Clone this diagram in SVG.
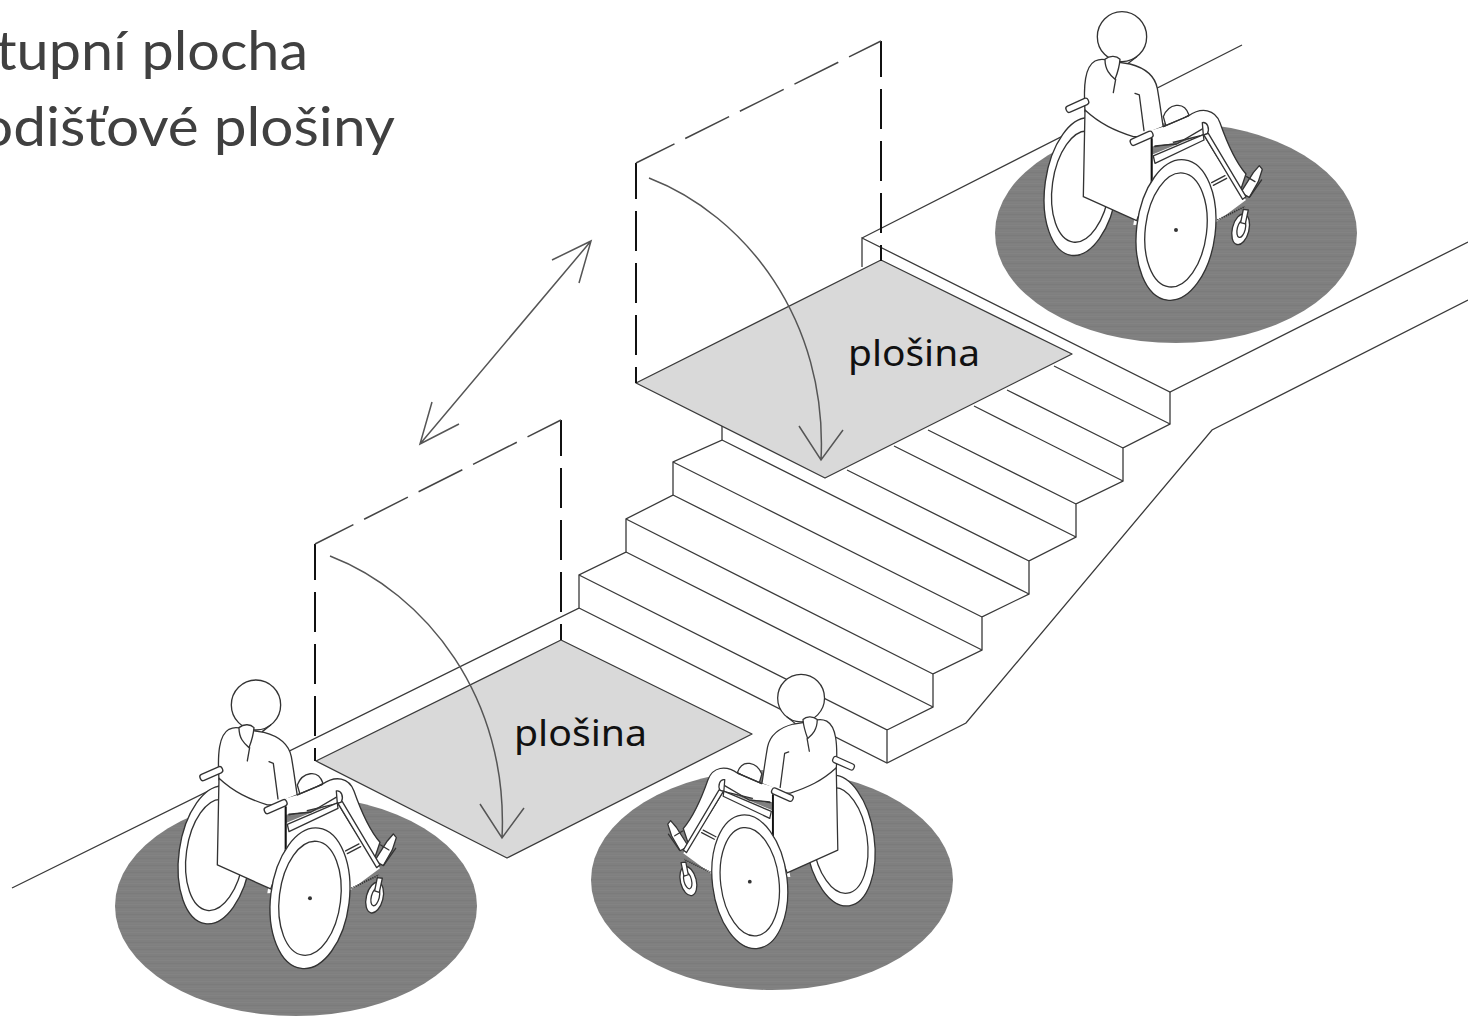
<svg xmlns="http://www.w3.org/2000/svg" width="1468" height="1016" viewBox="0 0 1468 1016">
<style>
.l{fill:none;stroke:#3a3a3a;stroke-width:1.3}
.plat{fill:#d9d9d9;stroke:#3a3a3a;stroke-width:1.3;stroke-linejoin:round}
.dv{fill:none;stroke:#111;stroke-width:2;stroke-dasharray:40 12;stroke-dashoffset:4}
.ds{fill:none;stroke:#444;stroke-width:1.5;stroke-dasharray:49 12;stroke-dashoffset:6}
.a{fill:none;stroke:#555;stroke-width:1.5}
.spot{fill:url(#st)}
.title{font-family:"Lato","Carlito","Liberation Sans",sans-serif;font-size:54px;fill:#404040}
.lab{font-family:"Noto Sans","DejaVu Sans",sans-serif;font-size:37px;fill:#111}
.w{fill:#fff;stroke:#333;stroke-width:4;stroke-linejoin:round;stroke-linecap:round}
.n{fill:none;stroke:#333;stroke-width:4;stroke-linejoin:round;stroke-linecap:round}
</style>
<defs>
<pattern id="st" width="40" height="7" patternUnits="userSpaceOnUse">
<rect width="40" height="7" fill="#7f7f7f"/>
<rect y="1" width="40" height="1" fill="#838383"/>
<rect y="4" width="40" height="1" fill="#7b7b7b"/>
<rect y="6" width="40" height="1" fill="#818181"/>
</pattern>
<path id="swing" d="M649,178 C745,215 828,320 821,460 M799,426 L821,460 L843,430"/>
<g id="chair">
<ellipse class="w" cx="243" cy="560" rx="108" ry="208" transform="rotate(8 243 560)"/>
<ellipse class="n" cx="243" cy="560" rx="86" ry="168" transform="rotate(8 243 560)"/>
<path d="M430,475 L612,400 L738,600 L650,665 L400,675 Z" fill="#fff"/>
<path class="w" d="M490,350 C505,312 552,300 567,345 L500,385 Z"/>
<path class="w" d="M255,335 C250,255 255,200 285,183 C300,176 315,178 325,182 L390,192 C440,205 465,230 472,265 C480,310 484,345 490,382 L510,378 L450,440 L300,400 Z"/>
<path class="w" d="M490,380 L565,348 C605,320 645,328 660,368 C680,425 702,480 738,522 L722,570 C680,520 642,455 612,405 L465,440 L440,400 Z"/>
<path d="M440,395 L490,380 L520,430 L450,440 Z" fill="#fff"/>
<path class="n" d="M490,380 L565,348 M465,438 L530,432 L610,385"/>
<path class="w" d="M722,578 L760,518 L778,497 L787,508 L775,545 L748,592 Z"/>
<path class="n" d="M740,530 L765,545 M750,590 L785,540"/>
<path class="w" d="M607,368 C622,365 630,385 622,402 L610,405 Z"/>
<path class="w" d="M612,405 L728,598 L738,590 L625,400 Z"/>
<path class="w" d="M460,468 L610,404 L612,420 L465,490 Z"/>
<path class="n" d="M635,548 L675,527 M640,556 L680,535"/>
<path class="n" d="M652,660 L735,620" stroke-dasharray="4 3" style="stroke-width:5;stroke-linecap:butt"/>
<path class="w" d="M255,330 C300,372 345,392 400,410 L455,410 L455,545 L410,662 L250,590 Z"/>
<path d="M455,415 L455,548" fill="none" stroke="#111" stroke-width="6"/>
<path class="n" d="M405,280 L418,285 L432,392"/>
<rect class="w" x="-36" y="-10" width="72" height="20" rx="8" transform="translate(232,316) rotate(-24)"/>
<rect class="w" x="-36" y="-10" width="72" height="20" rx="8" transform="translate(425,415) rotate(-24)"/>
<ellipse class="w" cx="366" cy="110" rx="74" ry="75"/>
<path class="n" d="M385,190 L410,170"/>
<path class="w" d="M315,178 C330,165 350,168 360,178 C358,205 350,225 345,238 C330,225 315,210 315,178 Z"/>
<path class="n" d="M347,238 L340,278"/>
<ellipse class="w" cx="528" cy="690" rx="118" ry="212" transform="rotate(7 528 690)"/>
<ellipse class="n" cx="528" cy="690" rx="92" ry="172" transform="rotate(7 528 690)"/>
<circle cx="528" cy="690" r="6" fill="#333"/>
<ellipse class="w" cx="722" cy="688" rx="25" ry="47" transform="rotate(14 722 688)"/>
<ellipse class="n" cx="724" cy="686" rx="12" ry="27" transform="rotate(14 724 686)"/>
<path class="w" d="M730,628 L745,630 L736,672 L722,668 Z"/>
</g>
</defs>
<rect width="1468" height="1016" fill="#fff"/>
<g id="title">
<text class="title" x="-4" y="70" textLength="312" lengthAdjust="spacingAndGlyphs">tupní plocha</text>
<text class="title" x="-20" y="146" textLength="415" lengthAdjust="spacingAndGlyphs">odišťové plošiny</text>
</g>
<g id="stairs">
<path class="l" d="M12,888 L579,608 L579,575 L626,552 L626,519 L673,495 L673,462 L722,440 L722,420"/>
<path class="l" d="M579,608 L887,763 L966,723 L1212,430 L1468,300"/>
<path class="l" d="M579,575 L887,730 L887,763 M887,730 L933,707 L933,674 L982,650 L982,617 L1029,594 L1029,561 L1076,537 L1076,504 L1123,481 L1123,448 L1170,424 L1170,392"/>
<path class="l" d="M626,552 L933,707 M626,519 L933,674 M673,495 L982,650 M673,462 L982,617 M722,440 L1029,594 M847,470 L1029,561 M894,446 L1076,537 M928,430 L1076,504 M974,406 L1123,481 M1007,390 L1123,448 M1054,366 L1170,424"/>
<path class="l" d="M1468,242 L1170,392 L862,238 L862,267 M862,238 L1242,45"/>
</g>
<g id="platform-upper"><path class="plat" d="M636,383 L881,260 L1072,354 L825,478 Z"/></g>
<g id="platform-lower"><path class="plat" d="M316,761 L561,640 L752,734 L507,858 Z"/></g>
<g id="doors">
<path class="dv" d="M636,163 L636,383 M881,41 L881,261"/>
<path class="ds" d="M636,163 L881,41"/>
<path class="dv" d="M315,544 L315,761 M561,420 L561,640"/>
<path class="ds" d="M315,544 L561,420"/>
</g>
<g id="arrows">
<use href="#swing" class="a"/>
<use href="#swing" class="a" transform="translate(-319,378)"/>
<path class="a" d="M591,241 L420,444 M552,260 L591,241 L579,283 M432,402 L420,444 L459,424"/>
</g>
<g id="labels">
<text class="lab" x="848" y="366" textLength="132" lengthAdjust="spacingAndGlyphs">plošina</text>
<text class="lab" x="514" y="746" textLength="133" lengthAdjust="spacingAndGlyphs">plošina</text>
</g>
<g id="spot-upper"><ellipse class="spot" cx="1176" cy="233" rx="181" ry="110"/></g>
<g id="spot-left"><ellipse class="spot" cx="296" cy="906" rx="181" ry="110"/></g>
<g id="spot-middle"><ellipse class="spot" cx="772" cy="880" rx="181" ry="110"/></g>
<g id="person-upper"><use href="#chair" transform="translate(1000,0) scale(.3333)"/></g>
<g id="person-left"><use href="#chair" transform="translate(134,668.3) scale(.3333)"/></g>
<g id="person-middle"><use href="#chair" transform="translate(917,663.2) scale(-.3167,.3167)"/></g>
</svg>
